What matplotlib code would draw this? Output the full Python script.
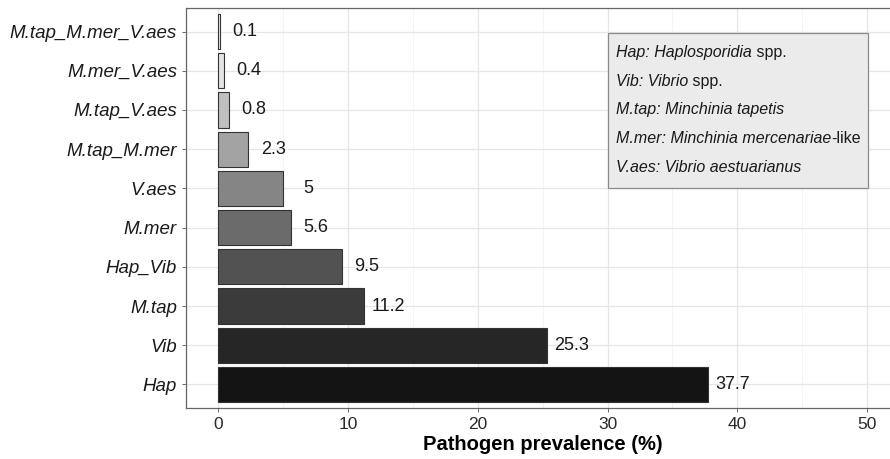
import matplotlib
matplotlib.use("Agg")
import matplotlib.pyplot as plt
from matplotlib.patches import Rectangle
from matplotlib.ticker import MultipleLocator

plt.rcParams["font.family"] = "Liberation Sans"

# data, bottom to top
CATS = ["Hap", "Vib", "M.tap", "Hap_Vib", "M.mer", "V.aes",
        "M.tap_M.mer", "M.tap_V.aes", "M.mer_V.aes", "M.tap_M.mer_V.aes"]
PREV = [37.7, 25.3, 11.2, 9.5, 5.6, 5.0, 2.3, 0.8, 0.4, 0.1]
LABELS = ["37.7", "25.3", "11.2", "9.5", "5.6", "5", "2.3", "0.8", "0.4", "0.1"]
FILLS = ["#141414", "#262626", "#3b3b3b", "#525252", "#6b6b6b", "#858585",
         "#a3a3a3", "#bfbfbf", "#e3e3e3", "#f2f2f2"]
KEY = [("Hap: Haplosporidia", " spp."),
       ("Vib: Vibrio", " spp."),
       ("M.tap: Minchinia tapetis", ""),
       ("M.mer: Minchinia mercenariae", "-like"),
       ("V.aes: Vibrio aestuarianus", "")]

W, H = 890, 459
fig = plt.figure(figsize=(W / 100, H / 100), dpi=100)
ax = fig.add_axes([186 / W, 1 - 408 / H, (899.5 - 186) / W, 400 / H])

ys = list(range(len(CATS)))
ax.barh(ys, PREV, height=0.9, color=FILLS, edgecolor="#333333", linewidth=0.8, zorder=3)
# labels sit centred a fixed distance past the bar end
for y, v, lab in zip(ys, PREV, LABELS):
    ax.annotate(lab, xy=(v, y), xytext=(18, 0), textcoords="offset points",
                va="center", ha="center", fontsize=13, color="#1a1a1a")

ax.set_xlim(-2.5, 52.5)
ax.set_ylim(-0.6, len(CATS) - 0.4)
ax.set_yticks(ys, CATS, fontsize=13.5, style="italic", color="#1a1a1a")
ax.xaxis.set_major_locator(MultipleLocator(10))
ax.xaxis.set_minor_locator(MultipleLocator(5))
ax.tick_params(axis="x", labelsize=12.5, labelcolor="#2a2a2a")
ax.tick_params(which="both", color="#555555", length=3, width=0.6)
ax.tick_params(which="minor", length=0)
ax.grid(True, which="major", color="#e6e6e6", linewidth=0.9, zorder=0)
ax.grid(True, which="minor", axis="x", color="#f2f2f2", linewidth=0.6, zorder=0)
ax.set_axisbelow(True)
for s in ax.spines.values():
    s.set_color("#666666")
    s.set_linewidth(0.9)
ax.set_xlabel("Pathogen prevalence (%)", fontsize=14.5, fontweight="bold", labelpad=2)

# species key box
fig.patches.append(Rectangle((608 / W, 1 - 188 / H), 260 / W, 155 / H,
                             transform=fig.transFigure, facecolor="#ebebeb",
                             edgecolor="#8a8a8a", linewidth=0.9, zorder=5))
renderer = fig.canvas.get_renderer()
for i, (it, tail) in enumerate(KEY):
    y = 1 - (57 + i * 28.7) / H
    t = fig.text(616 / W, y, it, fontsize=11.5, style="italic", va="baseline",
                 ha="left", color="#1a1a1a", zorder=6)
    if tail:
        bb = t.get_window_extent(renderer)
        fig.text(bb.x1 / W, y, tail, fontsize=11.5, va="baseline", ha="left",
                 color="#1a1a1a", zorder=6)

fig.savefig("out.png", dpi=100)
